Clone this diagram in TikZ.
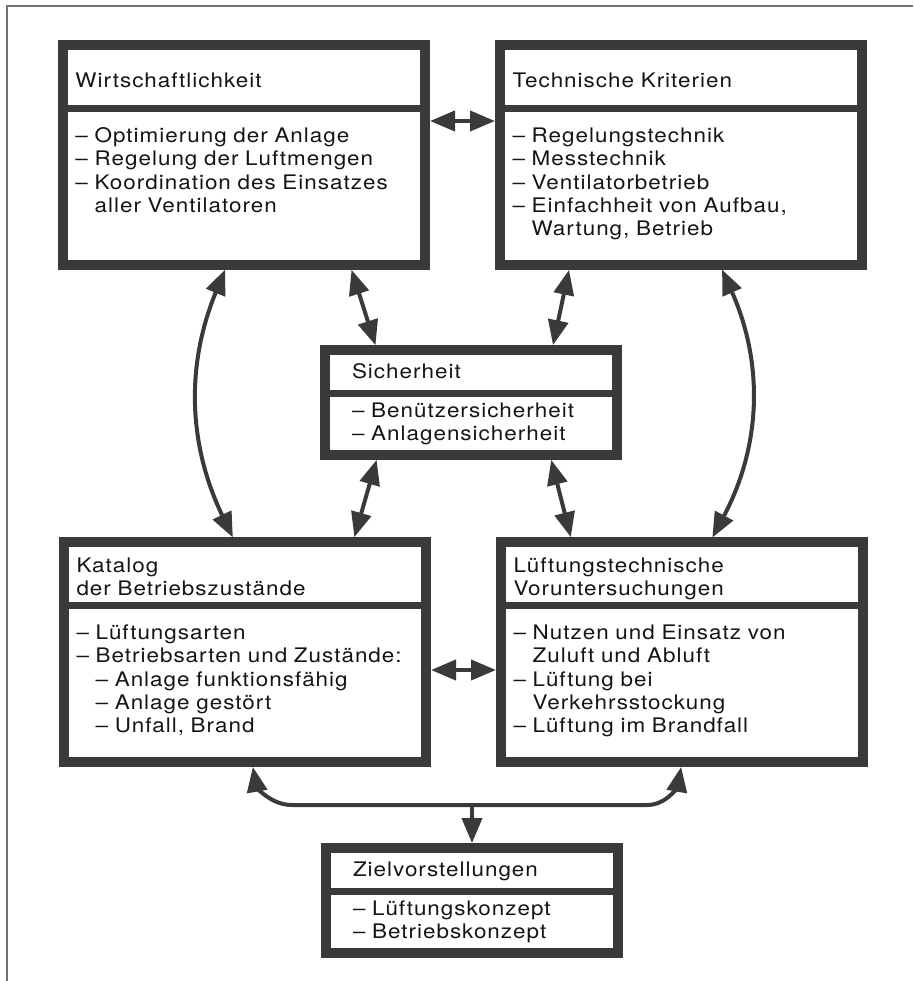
\documentclass[tikz,border=0pt]{standalone}
\usepackage{fontspec}
\setmainfont{TeX Gyre Heros}[FakeStretch=1.12, LetterSpace=5]
\usetikzlibrary{arrows.meta,positioning}
\definecolor{boxgray}{RGB}{58,58,58}
\definecolor{inkblack}{RGB}{20,20,20}
\newcommand{\ind}{\phantom{– }}
\tikzset{
  box text/.style={
    rectangle, inner xsep=0.25cm, inner ysep=0pt, outer sep=0pt,
    align=left, text=inkblack, font=\fontsize{11.4pt}{13.3pt}\selectfont
  },
  wide/.style={box text, text width=6.74cm},
  narrow/.style={box text, inner xsep=0.54cm, text width=4.76cm},
  tall head/.style={anchor=north west, text height=0.84cm, text depth=0.42cm},
  low head/.style={anchor=north west, text height=0.6cm, text depth=0.66cm},
  small head/.style={anchor=north west, text height=0.57cm, text depth=0.29cm},
  wide body/.style={text height=0.69cm, text depth=2.45cm},
  small body/.style={text height=0.48cm, text depth=0.76cm},
  frame/.style={draw=boxgray, line width=0.2cm},
  divider/.style={draw=boxgray, line width=0.14cm},
  link/.style={draw=boxgray, line width=0.08cm, shorten <=0.1cm, shorten >=0.1cm},
  both/.style={link, {Triangle[length=0.5cm,width=0.4cm]}-{Triangle[length=0.5cm,width=0.4cm]}},
  down/.style={link, shorten <=0pt, -{Triangle[length=0.5cm,width=0.4cm]}},
  page rule/.style={draw=black!55, line width=0.04cm}
}

\begin{document}
\begin{tikzpicture}
  \useasboundingbox (0,0) rectangle (18.26,-19.62);
  \draw[page rule] (0.13,-19.62) -- (0.13,-0.12) -- (18.26,-0.12);

  % top row
  \node[wide, tall head] (wirth) at (1.26,-0.90) {Wirtschaftlichkeit};
  \node[wide, wide body, below=0pt of wirth] (wirtb) {– Optimierung der Anlage\\– Regelung der Luftmengen\\– Koordination des Einsatzes\\\ind aller Ventilatoren};
  \node[wide, tall head] (techh) at (10.00,-0.90) {Technische Kriterien};
  \node[wide, wide body, below=0pt of techh] (techb) {– Regelungstechnik\\– Messtechnik\\– Ventilatorbetrieb\\– Einfachheit von Aufbau,\\\ind Wartung, Betrieb};

  % middle
  \node[narrow, small head] (sichh) at (6.50,-7.00) {Sicherheit};
  \node[narrow, small body, below=0pt of sichh] (sichb) {– Benützersicherheit\\– Anlagensicherheit};

  % bottom row
  \node[wide, low head] (kath) at (1.28,-10.84) {Katalog\\der Betriebszustände};
  \node[wide, wide body, below=0pt of kath] (katb) {– Lüftungsarten\\– Betriebsarten und Zustände:\\\ind – Anlage funktionsfähig\\\ind – Anlage gestört\\\ind – Unfall, Brand};
  \node[wide, low head] (lufth) at (10.02,-10.84) {Lüftungstechnische\\Voruntersuchungen};
  \node[wide, wide body, below=0pt of lufth] (luftb) {– Nutzen und Einsatz von\\\ind Zuluft und Abluft\\– Lüftung bei\\\ind Verkehrsstockung\\– Lüftung im Brandfall};

  \node[narrow, small head] (zielh) at (6.52,-16.96) {Zielvorstellungen};
  \node[narrow, small body, below=0pt of zielh] (zielb) {– Lüftungskonzept\\– Betriebskonzept};

  \foreach \bx in {wirt,tech,sich,kat,luft,ziel} {
    \draw[frame] (\bx h.north west) rectangle (\bx b.south east);
    \draw[divider] (\bx h.south west) -- (\bx h.south east);
  }

  % connectors
  \draw[both] ([yshift=-0.26cm]wirtb.north east) -- ([yshift=-0.26cm]techb.north west);
  \draw[both] ([yshift=-1.3cm]katb.north east) -- ([yshift=-1.3cm]luftb.north west);
  \draw[both] ([xshift=5.74cm]wirtb.south west) -- ([xshift=1.04cm]sichh.north west);
  \draw[both] ([xshift=1.4cm]techb.south west) -- ([xshift=-1.3cm]sichh.north east);
  \draw[both] ([xshift=1.06cm]sichb.south west) -- ([xshift=5.78cm]kath.north west);
  \draw[both] ([xshift=-1.34cm]sichb.south east) -- ([xshift=1.42cm]lufth.north west);
  \draw[both] ([xshift=3.28cm]wirtb.south west) to[bend right=24] ([xshift=3.42cm]kath.north west);
  \draw[both] ([xshift=4.4cm]techb.south west) to[bend left=26] ([xshift=4.18cm]lufth.north west);

  \coordinate[above=0.86cm of zielh.north] (hub);
  \draw[both] ([xshift=3.76cm]katb.south west) to[out=-80,in=180] ([xshift=-3.6cm]hub)
    -- ([xshift=3.5cm]hub) to[out=0,in=-100] ([xshift=3.62cm]luftb.south west);
  \draw[down] (hub) -- (zielh.north);
\end{tikzpicture}
\end{document}
